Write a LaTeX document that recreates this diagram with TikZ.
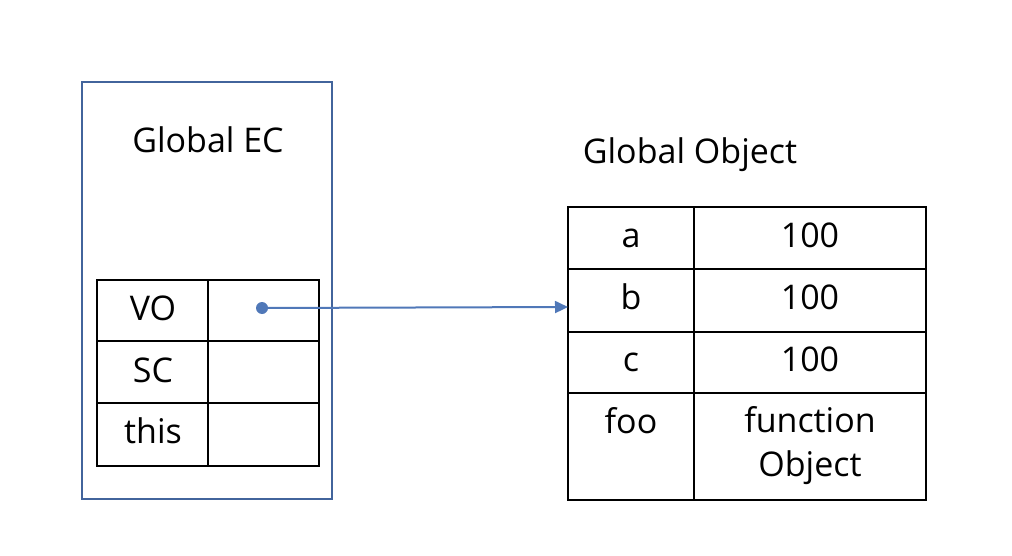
\documentclass[tikz,border=0pt]{standalone}
\usepackage{fontspec}
\setmainfont{Open Sans}
\usetikzlibrary{arrows.meta}
\definecolor{ecblue}{RGB}{66,100,156}
\definecolor{ptrblue}{RGB}{80,120,184}
\begin{document}
\begin{tikzpicture}[x=0.5pt,y=-0.5pt,line join=miter]
	\tikzstyle{ecbox}=[line width=1pt,draw=ecblue];
	\tikzstyle{grid}=[line width=1pt,draw=black];
	\tikzstyle{lbl}=[font=\fontsize{17}{22}\selectfont,inner sep=0pt,anchor=base];
	\tikzstyle{ptr}=[line width=1pt,draw=ptrblue,-{Triangle[length=6.5pt,width=6pt]},fill=ptrblue];
	\useasboundingbox (0,0) rectangle (1012,556);

	% execution context
	\draw[ecbox] (82,82) rectangle (332,499);
	\node[lbl] (ectitle) at (208,153) {Global EC};
	\draw[grid] (97,280) rectangle (319,466);
	\draw[grid] (208,280) -- (208,466);
	\foreach \y in {341,403} \draw[grid] (97,\y) -- (319,\y);
	\node[lbl] (vo)   at (153,320) {VO};
	\node[lbl] (sc)   at (153,382) {SC};
	\node[lbl] (this) at (153,443) {this};

	% global object
	\node[lbl] (gotitle) at (690,163) {Global Object};
	\draw[grid] (568,207) rectangle (926,500);
	\draw[grid] (694,207) -- (694,500);
	\foreach \y in {269,332,393} \draw[grid] (568,\y) -- (926,\y);
	\node[lbl] (ka) at (631,247) {a};
	\node[lbl] (va) at (810,247) {100};
	\node[lbl] (kb) at (631,309) {b};
	\node[lbl] (vb) at (810,309) {100};
	\node[lbl] (kc) at (631,371) {c};
	\node[lbl] (vc) at (810,371) {100};
	\node[lbl] (kfoo) at (631,433) {foo};
	\node[lbl,anchor=north,align=center] (vfoo) at (810,406) {function\\Object};

	% pointer
	\node[circle,fill=ptrblue,inner sep=0pt,minimum size=6pt] (vodot) at (262,308) {};
	\coordinate (bin) at (568,307);
	\draw[ptr] (vodot.center) -- (bin);
\end{tikzpicture}
\end{document}
